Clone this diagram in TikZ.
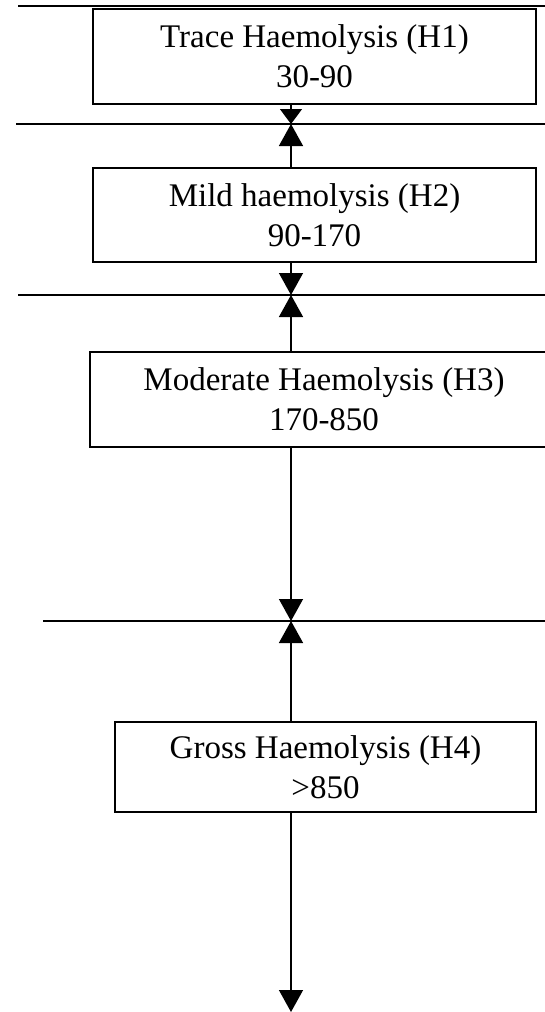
\documentclass[tikz,border=0pt]{standalone}
\usepackage{fontspec}
\setmainfont{Liberation Serif}
\usetikzlibrary{arrows.meta}
\begin{document}
\begin{tikzpicture}[x=1pt,y=-1pt,
  box/.style={draw,line width=1.4pt,rectangle,inner sep=0pt,align=center,
    font=\fontsize{33}{40}\selectfont},
  sep/.style={line width=1.4pt},
  arr/.style={line width=1.4pt,-{Triangle[width=24pt,length=22pt]}},
  arrshort/.style={line width=1.4pt,-{Triangle[width=22pt,length=15pt]}}]
\useasboundingbox (0,0) rectangle (545,1012);
\clip (0,0) rectangle (545,1012);
% boxes
\node[box,minimum width=443pt,minimum height=95pt] (b1) at (314.5,56.5) {Trace Haemolysis (H1)\\30-90};
\node[box,minimum width=443pt,minimum height=94pt] (b2) at (314.5,215) {Mild haemolysis (H2)\\90-170};
\node[box,minimum width=468pt,minimum height=95pt] (b3) at (324,399.5) {Moderate Haemolysis (H3)\\170-850};
\node[box,minimum width=421pt,minimum height=90pt] (b4) at (325.5,767) {Gross Haemolysis (H4)\\>850};
% separator lines
\coordinate (h1a) at (18,6);  \coordinate (h1b) at (545,6);
\coordinate (h2a) at (16,124); \coordinate (h2b) at (545,124);
\coordinate (h3a) at (18,295); \coordinate (h3b) at (545,295);
\coordinate (h4a) at (43,621); \coordinate (h4b) at (545,621);
\draw[line width=2.6pt] (h1a) -- (h1b);
\draw[sep] (h2a) -- (h2b);
\draw[sep] (h3a) -- (h3b);
\draw[sep] (h4a) -- (h4b);
% arrow ends
\coordinate (c2) at (291,124);
\coordinate (c3) at (291,295);
\coordinate (c4) at (291,621);
\coordinate (c5) at (291,1012);
\draw[arrshort] (b1.south -| c2) -- (c2);
\draw[arr] (b2.north -| c2) -- (c2);
\draw[arr] (b2.south -| c3) -- (c3);
\draw[arr] (b3.north -| c3) -- (c3);
\draw[arr] (b3.south -| c4) -- (c4);
\draw[arr] (b4.north -| c4) -- (c4);
\draw[arr] (b4.south -| c5) -- (c5);
\end{tikzpicture}
\end{document}
